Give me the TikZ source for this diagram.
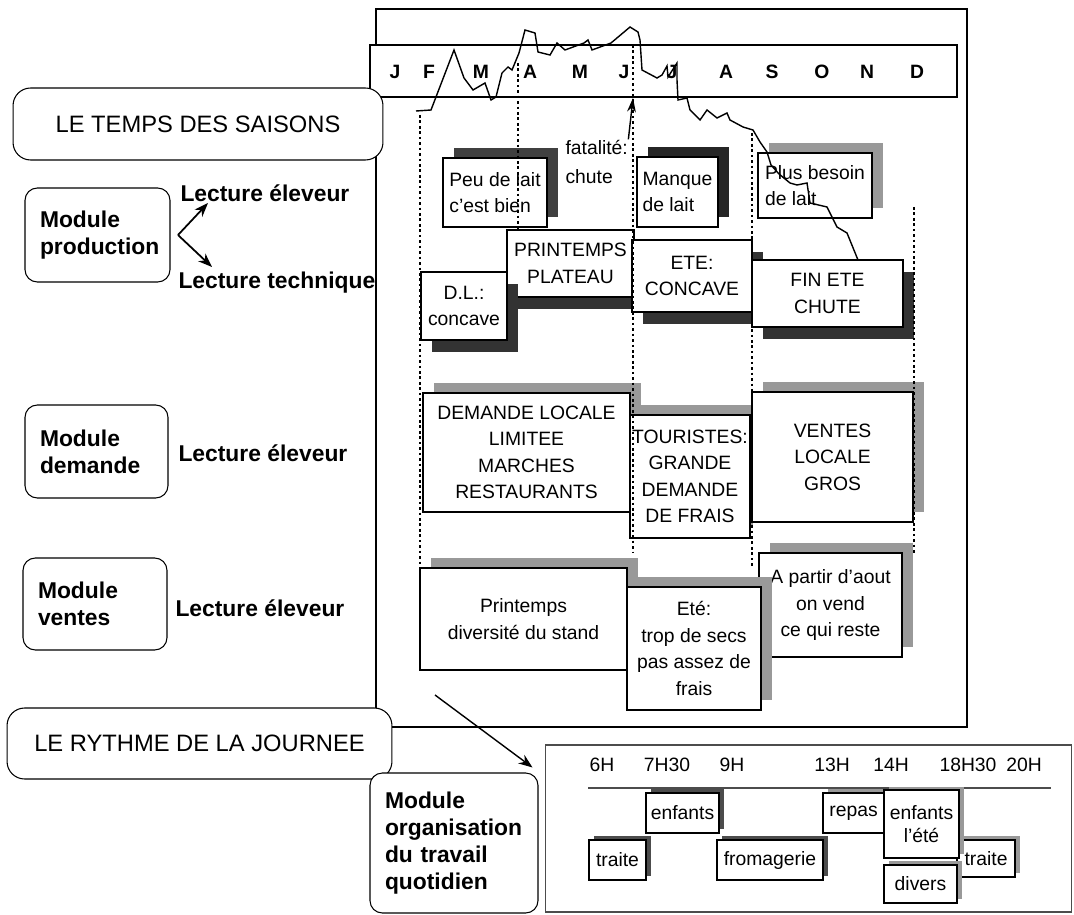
\documentclass[tikz,border=0pt]{standalone}
\usepackage{fontspec}
\setmainfont{Liberation Sans}
\usepackage{tikz}
\usetikzlibrary{shadows,arrows.meta}

\begin{document}
\begin{tikzpicture}[x=0.02cm, y=-0.02cm, line width=0.6pt,
    card/.style={draw, fill=white, align=center, inner sep=1pt, line width=0.8pt, font=\fontsize{11}{15}\selectfont},
    tag/.style={draw, fill=white, rounded corners=7pt, line width=0.6pt},
    module/.style={tag, align=left, inner xsep=0.3cm, font=\bfseries\fontsize{13}{15.5}\selectfont},
    lecture/.style={anchor=west, inner sep=0pt, font=\bfseries\fontsize{13}{15}\selectfont},
    shup/.style={drop shadow={shadow xshift=6pt, shadow yshift=5.5pt, fill=#1, opacity=1}},
    shup/.default=black!40,
    shtop/.style={drop shadow={shadow xshift=1.5pt, shadow yshift=5.5pt, fill=black!40, opacity=1}},
    shdn/.style={drop shadow={shadow xshift=6pt, shadow yshift=-7pt, fill=black!80, opacity=1}},
    shday/.style={drop shadow={shadow xshift=3pt, shadow yshift=2pt, fill=#1, opacity=1}},
    shday/.default=black!70,
    guide/.style={line width=1.6pt, dash pattern=on 1.5pt off 1.6pt},
    month/.style={font=\bfseries\fontsize{11}{13}\selectfont},
    hour/.style={font=\fontsize{11}{13}\selectfont},
    dayjob/.style={draw, fill=white, inner sep=1pt, line width=0.9pt, minimum height=0.8cm, align=center, font=\fontsize{11}{13}\selectfont}]
    \useasboundingbox (0,0) rectangle (1074,915);
    \draw (376,9) rectangle (967,727);
    \draw[fill=white] (370,45) rectangle (957,97);
    \foreach \m/\x [count=\i] in {J/395, F/429, M/481, A/530, M/580, J/624, J/672, A/726, S/772, O/822, N/867, D/917}
        \node[month] at (\x,72) (m\i) {\m};
    \node[tag, rounded corners=10pt, minimum width=7.40cm, minimum height=1.44cm, font=\fontsize{13.5}{16}\selectfont] at (198,124) (S0) {LE TEMPS DES SAISONS};
    \node[tag, rounded corners=10pt, minimum width=7.70cm, minimum height=1.42cm, font=\fontsize{13.5}{16}\selectfont] at (199.5,743.5) (S1) {LE RYTHME DE LA JOURNEE};

    \node[module, text width=2.30cm, minimum height=1.88cm] at (97.5,235) (M1) {Module\\production};
    \node[module, text width=2.26cm, minimum height=1.86cm] at (96.5,451.5) (M2) {Module\\demande};
    \node[module, text width=2.28cm, minimum height=1.84cm] at (95,604) (M3) {Module\\ventes};
    \node[module, text width=2.76cm, minimum height=2.80cm] at (454,843) (M4) {Module\\organisation\\du travail\\quotidien};
    \node[lecture] at (180,193) (L1) {Lecture éleveur};
    \node[lecture] at (178,283) (L2) {Lecture technique};
    \node[lecture] at (178,453) (L3) {Lecture éleveur};
    \node[lecture] at (175,608) (L4) {Lecture éleveur};
    \coordinate (V) at (178,235);
    \coordinate (T1) at (208,203);
    \coordinate (T2) at (212,267);
    \draw[-{Stealth[length=8pt, width=6pt]}, line width=1pt] (V) -- (T1);
    \draw[-{Stealth[length=8pt, width=6pt]}, line width=1pt] (V) -- (T2);

    \node[card, shup=black!75, align=left, minimum width=2.08cm, minimum height=1.38cm] at (495,192.5) (B1) {Peu de lait\\c'est bien};
    \node[anchor=west, inner sep=0pt, align=left, font=\fontsize{11}{17}\selectfont] at (565,162) (B2) {fatalité:\\chute};
    \node[card, shup=black!85, align=left, minimum width=1.62cm, minimum height=1.40cm] at (677.5,192) (B3) {Manque\\de lait};
    \node[card, shup, align=left, minimum width=2.28cm, minimum height=1.30cm] at (815,185.5) (B4) {Plus besoin\\de lait};
    \node[card, shdn, minimum width=2.54cm, minimum height=1.34cm] at (570.5,263.5) (B6) {PRINTEMPS\\PLATEAU};
    \node[card, shdn, minimum width=1.72cm, minimum height=1.36cm] at (464,306) (B5) {D.L.:\\concave};
    \node[card, shdn, minimum width=2.40cm, minimum height=1.44cm] at (692,276) (B7) {ETE:\\CONCAVE};
    \node[card, shdn, minimum width=3.02cm, minimum height=1.34cm] at (827.5,293.5) (B8) {FIN ETE\\CHUTE};

    \node[card, shup, minimum width=4.14cm, minimum height=2.38cm] at (526.5,452.5) (B9) {DEMANDE LOCALE\\LIMITEE\\MARCHES\\RESTAURANTS};
    \node[card, shtop, minimum width=2.40cm, minimum height=2.46cm] at (690,476.5) (B10) {TOURISTES:\\GRANDE\\DEMANDE\\DE FRAIS};
    \node[card, shup, minimum width=3.22cm, minimum height=2.60cm] at (832.5,457) (B11) {VENTES\\LOCALE\\GROS};

    \node[card, shup, minimum width=4.14cm, minimum height=2.04cm] at (523.5,619) (B12) {Printemps\\diversité du stand};
    \node[card, shup, minimum width=2.86cm, minimum height=2.08cm] at (830.5,605) (B14) {A partir d'aout\\on vend\\ce qui reste};
    \node[card, shup, minimum width=2.68cm, minimum height=2.46cm] at (694,648.5) (B13) {Eté:\\trop de secs\\pas assez de\\frais};

    \draw[line width=0.8pt] (416,111) -- (431,110) -- (454,50) -- (464,78) -- (473,90) -- (485,83) -- (491,100) -- (496,97)
        -- (502,73) -- (508,67) -- (512,70) -- (519,53) -- (525,30) -- (535,33) -- (538,52) -- (550,55) -- (557,43)
        -- (565,50) -- (584,43) -- (588,40) -- (592,50) -- (611,43) -- (630,27) -- (638,32) -- (640,40) -- (642,70)
        -- (657,78) -- (662,75) -- (667,66) -- (668,77) -- (677,63) -- (677,80) -- (678,100) -- (687,98) -- (690,110)
        -- (700,120) -- (707,110) -- (717,118) -- (727,113) -- (730,120) -- (743,127) -- (753,130) -- (760,142)
        -- (767,152) -- (771,165) -- (779,174) -- (790,183) -- (797,185) -- (807,183) -- (810,203) -- (827,207)
        -- (837,227) -- (847,233) -- (858,260);
    \draw[guide] (420,115) -- (420,670);
    \draw[guide] (518,63) -- (518,230);
    \draw[guide] (633,45) -- (633,552);
    \draw[guide] (752,133) -- (752,568);
    \draw[guide] (914,207) -- (914,553);
    \draw[-{Stealth[length=8pt, width=5pt]}, line width=0.8pt] (B2.north east) -- (633,98);

    \node[draw=black!70, minimum width=10.54cm, minimum height=3.34cm] at (808.5,828.5) (D0) {};
    \foreach \h/\x in {6H/602, 7H30/667, 9H/732, 13H/832, 14H/891, 18H30/968, 20H/1024}
        \node[hour] at (\x,765) (h\x) {\h};
    \draw[black!70, line width=0.8pt] (588,788) -- (1051,788);
    \node[dayjob, shday, minimum width=1.46cm] at (682.5,813) (D1) {enfants};
    \node[dayjob, shday, minimum width=1.14cm] at (617.5,860) (D2) {traite};
    \node[dayjob, shday, minimum width=2.12cm] at (770,860) (D3) {fromagerie};
    \node[dayjob, shday=black!40, minimum width=1.22cm] at (853.5,813) (D4) {repas};
    \node[dayjob, shday=black!40, minimum width=1.16cm, minimum height=0.74cm] at (986,858.5) (D7) {traite};
    \node[dayjob, shday=black!40, minimum width=1.46cm, minimum height=0.76cm] at (920.5,884) (D6) {divers};
    \node[dayjob, shday=black!40, minimum width=1.50cm, minimum height=1.36cm] at (921.5,824) (D5) {enfants\\l'été};
    \coordinate (A0) at (435,695);
    \draw[-{Stealth[length=8pt, width=6pt]}, line width=0.8pt] (A0) -- ([shift={(-12,23)}]D0.north west);
\end{tikzpicture}
\end{document}
